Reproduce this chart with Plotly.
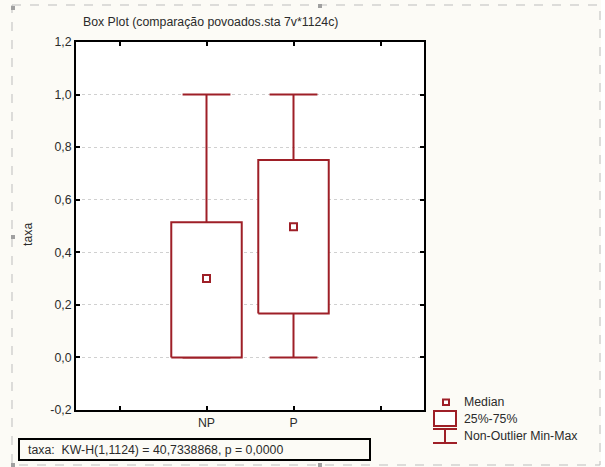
import plotly.graph_objects as go

# ---- data ----
categories = ["NP", "P"]
cat_positions = [1, 2]
minimum = [0.0, 0.0]
q1 = [0.0, 0.167]
median = [0.30, 0.497]
q3 = [0.514, 0.751]
maximum = [1.0, 1.0]

y_tick_vals = [-0.2, 0.0, 0.2, 0.4, 0.6, 0.8, 1.0, 1.2]
y_tick_text = ["-0,2", "0,0", "0,2", "0,4", "0,6", "0,8", "1,0", "1,2"]
x_tick_vals = [0, 1, 2, 3]
x_tick_text = ["", "NP", "P", ""]

title_text = "Box Plot (comparação povoados.sta 7v*1124c)"
y_title = "taxa"
stat_text = "taxa:  KW-H(1,1124) = 40,7338868, p = 0,0000"
legend_labels = ["Median", "25%-75%", "Non-Outlier Min-Max"]

# ---- style ----
RED = "#9E1F27"
BG = "#FCFBF6"
FONT = "Liberation Sans, Arial, sans-serif"
FS = 12.3
TXT = "#2b2b2b"
W, H = 605, 467
L, R, T, B = 76, 424, 42, 410
box_half = 0.405
cap_half = 0.275

fig = go.Figure()

for c, lo, a, m, b, hi in zip(cat_positions, minimum, q1, median, q3, maximum):
    # whiskers
    fig.add_trace(go.Scatter(x=[c, c, None, c, c], y=[b, hi, None, lo, a], mode="lines",
                             line=dict(color=RED, width=2), hoverinfo="skip"))
    # caps
    fig.add_trace(go.Scatter(x=[c - cap_half, c + cap_half, None, c - cap_half, c + cap_half],
                             y=[hi, hi, None, lo, lo], mode="lines",
                             line=dict(color=RED, width=2), hoverinfo="skip"))
    # box
    fig.add_trace(go.Scatter(x=[c - box_half, c + box_half, c + box_half, c - box_half, c - box_half],
                             y=[a, a, b, b, a], mode="lines", fill="toself", fillcolor="white",
                             line=dict(color=RED, width=2), hoverinfo="skip"))
    # median marker
    fig.add_trace(go.Scatter(x=[c], y=[m], mode="markers",
                             marker=dict(symbol="square-open", size=7, color=RED,
                                         line=dict(color=RED, width=2)), hoverinfo="skip"))


def px(x):
    return (x - L) / (R - L)


def py(y):
    return (B - y) / (B - T)


shapes = []
# page dashed frame
shapes.append(dict(type="rect", xref="paper", yref="paper", x0=px(12), x1=px(600), y0=py(5), y1=py(465),
                   line=dict(color="#BDBDBD", width=1, dash="dash"), layer="below"))
shapes.append(dict(type="rect", xref="paper", yref="paper", x0=px(601), x1=px(606), y0=py(-2), y1=py(470),
                   fillcolor="white", line=dict(width=0), layer="below"))
for hx, hy in [(13, 8), (320, 6), (13, 237), (13, 465), (320, 465)]:
    shapes.append(dict(type="rect", xref="paper", yref="paper", x0=px(hx - 2), x1=px(hx + 2),
                       y0=py(hy - 2), y1=py(hy + 2), fillcolor="#A0A0A0", line=dict(width=0)))
# stat text box
shapes.append(dict(type="rect", xref="paper", yref="paper", x0=px(19), x1=px(370), y0=py(439), y1=py(460),
                   line=dict(color="black", width=2), fillcolor=BG))
# legend icons
shapes.append(dict(type="rect", xref="paper", yref="paper", x0=px(443), x1=px(449), y0=py(399.5), y1=py(405),
                   line=dict(color=RED, width=2), fillcolor="white"))
shapes.append(dict(type="rect", xref="paper", yref="paper", x0=px(434), x1=px(456), y0=py(411), y1=py(426),
                   line=dict(color=RED, width=2), fillcolor="white"))
shapes.append(dict(type="line", xref="paper", yref="paper", x0=px(433), x1=px(457), y0=py(429), y1=py(429),
                   line=dict(color=RED, width=2)))
shapes.append(dict(type="line", xref="paper", yref="paper", x0=px(433), x1=px(457), y0=py(443), y1=py(443),
                   line=dict(color=RED, width=2)))
shapes.append(dict(type="line", xref="paper", yref="paper", x0=px(445), x1=px(445), y0=py(429), y1=py(443),
                   line=dict(color=RED, width=2)))

annotations = [
    dict(text=title_text, xref="paper", yref="paper", x=px(81), y=py(22), xanchor="left", yanchor="middle",
         showarrow=False, font=dict(family=FONT, size=FS, color=TXT)),
    dict(text=y_title, xref="paper", yref="paper", x=px(28), y=py(235), textangle=-90,
         xanchor="center", yanchor="middle", showarrow=False, font=dict(family=FONT, size=FS, color=TXT)),
    dict(text=stat_text, xref="paper", yref="paper", x=px(26), y=py(449.5), xanchor="left",
         yanchor="middle", showarrow=False, font=dict(family=FONT, size=FS, color=TXT)),
]
for lbl, ly in zip(legend_labels, [402, 419, 436]):
    annotations.append(dict(text=lbl, xref="paper", yref="paper", x=px(462), y=py(ly), xanchor="left",
                            yanchor="middle", showarrow=False, font=dict(family=FONT, size=FS, color=TXT)))

fig.update_layout(
    width=W, height=H,
    margin=dict(l=L, r=W - R, t=T, b=H - B, pad=0),
    paper_bgcolor=BG, plot_bgcolor="white",
    showlegend=False,
    font=dict(family=FONT, size=FS, color=TXT),
    shapes=shapes, annotations=annotations,
    xaxis=dict(range=[-0.5, 3.5], tickvals=x_tick_vals, ticktext=x_tick_text, showgrid=False,
               zeroline=False, showline=True, linecolor="black", linewidth=2, mirror="ticks",
               ticks="inside", ticklen=4, tickwidth=2, tickcolor="black", fixedrange=True,
               tickfont=dict(family=FONT, size=FS, color=TXT)),
    yaxis=dict(range=[-0.2, 1.2], tickvals=y_tick_vals, ticktext=y_tick_text, showgrid=True,
               gridcolor="#D0D0D0", griddash="dot", gridwidth=1, zeroline=False, showline=True,
               linecolor="black", linewidth=2, mirror="ticks", ticks="inside", ticklen=4, tickwidth=2,
               tickcolor="black", fixedrange=True, tickfont=dict(family=FONT, size=FS, color=TXT)),
)

fig.write_html("out.html", config={"displayModeBar": False},
               post_script="document.body.style.margin='0';document.body.style.overflow='hidden';")
